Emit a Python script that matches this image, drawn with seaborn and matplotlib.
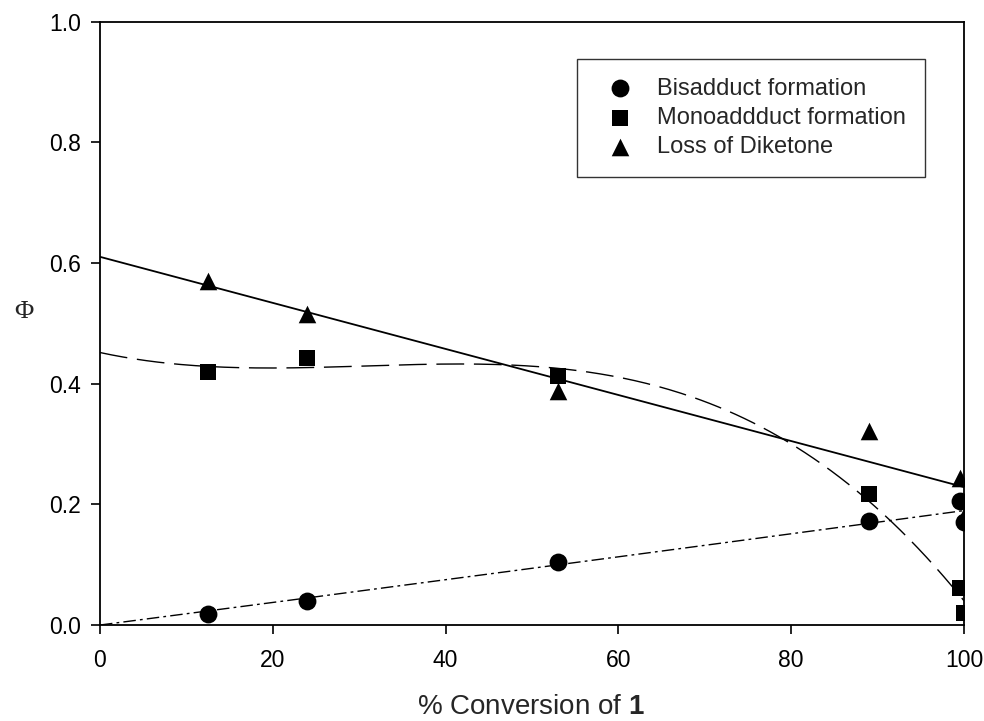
import numpy as np
import matplotlib
matplotlib.use("Agg")
import matplotlib.pyplot as plt
import seaborn as sns

conversion = [12.5, 24, 53, 89, 99.5, 100]
bisadduct = [0.018, 0.040, 0.104, 0.172, 0.205, 0.170]
monoadduct = [0.420, 0.443, 0.412, 0.218, 0.062, 0.020]
diketone = [0.570, 0.515, 0.388, 0.322, 0.244, 0.180]
labels = ['Bisadduct formation', 'Monoaddduct formation', 'Loss of Diketone']

sns.set_theme(style="ticks")
plt.rcParams['font.family'] = ['Liberation Sans', 'DejaVu Sans']
plt.rcParams['mathtext.fontset'] = 'custom'
plt.rcParams['mathtext.rm'] = 'Liberation Sans'
plt.rcParams['mathtext.bf'] = 'Liberation Sans:bold'

fig = plt.figure(figsize=(9.84, 7.21), dpi=100)
ax = fig.add_axes([0.1016, 0.1331, 0.8781, 0.8368])

xs = np.linspace(0, 100, 300)
cx = np.array(conversion)
A = np.column_stack([cx, cx ** 2])
coef, *_ = np.linalg.lstsq(A, np.array(bisadduct), rcond=None)
fit_bis = coef[0] * xs + coef[1] * xs ** 2
fit_mono = np.polyval(np.polyfit(conversion, monoadduct, 3), xs)
fit_dik = np.polyval(np.polyfit(conversion, diketone, 1), xs)

sns.lineplot(x=xs, y=fit_dik, ax=ax, color='black', lw=1.3)
sns.lineplot(x=xs, y=fit_mono, ax=ax, color='black', lw=1.0)
ax.lines[-1].set_dashes([20, 7])
sns.lineplot(x=xs, y=fit_bis, ax=ax, color='black', lw=1.0)
ax.lines[-1].set_dashes([9, 3, 2, 3])

series = [(bisadduct, 'o', 165), (monoadduct, 's', 125), (diketone, '^', 160)]
for (vals, mk, sz), lab in zip(series, labels):
    sns.scatterplot(x=conversion, y=vals, marker=mk, s=sz, color='black',
                    linewidth=0, ax=ax, zorder=5, label=lab)

ax.set_xlim(0, 100)
ax.set_ylim(0, 1.0)
ax.set_xticks([0, 20, 40, 60, 80, 100])
ax.set_yticks([0.0, 0.2, 0.4, 0.6, 0.8, 1.0])
ax.set_yticklabels(['0.0', '0.2', '0.4', '0.6', '0.8', '1.0'])
ax.tick_params(direction='out', length=6.5, width=1.2, labelsize=16.5, colors='black')
ax.tick_params(axis='x', pad=11)
ax.tick_params(axis='y', pad=7)
for sp in ax.spines.values():
    sp.set_linewidth(1.3)
    sp.set_color('black')

ax.set_xlabel('')
ax.set_ylabel('')
fig.text(0.5395, 0.0195, r'% Conversion of $\mathbf{1}$', ha='center', va='center', fontsize=20)
fig.text(0.0244, 0.567, 'Φ', ha='center', va='center', fontsize=19, family=['Liberation Serif', 'DejaVu Serif'])

handles, labs = ax.get_legend_handles_labels()
leg = ax.legend(handles, labs, loc='upper right', bbox_to_anchor=(0.955, 0.9386), fontsize=17,
                frameon=True, fancybox=False, edgecolor='black', borderpad=0.8,
                handletextpad=0.6, labelspacing=0.3, borderaxespad=0, handlelength=2.0)
leg.get_frame().set_linewidth(1.0)

fig.savefig('out.png', dpi=100)
